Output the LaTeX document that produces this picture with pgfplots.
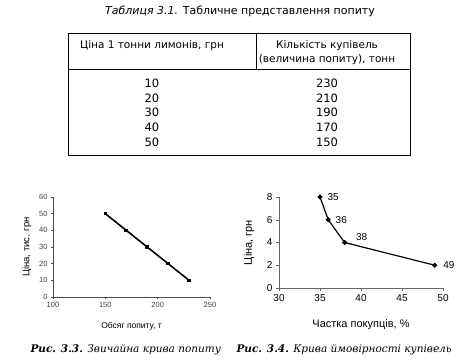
\documentclass[border=0pt]{standalone}
\usepackage{fontspec}
\setmainfont{Liberation Sans}
\newfontfamily\tabfont{DejaVu Sans}
\newfontfamily\capfont{DejaVu Serif}
\usepackage{pgfplots}
\pgfplotsset{compat=1.18}
\begin{document}
\begin{tikzpicture}
\useasboundingbox (0,0) rectangle (471pt,-363pt);
% title
\node[font=\tabfont\fontsize{11}{13}\selectfont] at (240pt,-11pt) {\textit{Таблиця 3.1.} Табличне представлення попиту};
% table frame
\draw[line width=0.7pt] (68pt,-33pt) rectangle (410pt,-155pt);
\draw[line width=0.7pt] (256pt,-33pt) -- (256pt,-69pt);
\draw[line width=0.7pt] (68pt,-69pt) -- (410pt,-69pt);
\begin{scope}[every node/.style={font=\tabfont\fontsize{10.5}{12}\selectfont}]
\node at (152pt,-46pt) {Ціна 1 тонни лимонів, грн};
\node at (327pt,-46pt) {Кількість купівель};
\node at (327pt,-60pt) {(величина попиту), тонн};
\foreach \a/\b/\y in {10/230/83,20/210/98,30/190/112,40/170/127,50/150/142}{
  \node[font=\tabfont\fontsize{11.5}{13}\selectfont] at (152pt,-\y pt) {\a};
  \node[font=\tabfont\fontsize{11.5}{13}\selectfont] at (327pt,-\y pt) {\b};
}
\end{scope}
% left chart
\begin{axis}[
  at={(53pt,-297pt)}, anchor=south west,
  scale only axis, width=157pt, height=100pt,
  xmin=100, xmax=250, ymin=0, ymax=60,
  xtick={100,150,200,250}, ytick={0,10,20,30,40,50,60},
  axis lines=left, axis line style={-, black!70, line width=0.5pt},
  tick style={black!70, line width=0.4pt}, tick align=outside, major tick length=2pt,
  ticklabel style={font=\fontsize{7.5}{8.5}\selectfont, text=black!75},
  /pgf/number format/assume math mode=true,
  xlabel={Обсяг попиту, т}, ylabel={Ціна, тис. грн},
  label style={font=\fontsize{8.5}{10}\selectfont},
  ylabel style={font=\fontsize{9.5}{11}\selectfont, yshift=1pt},
  xlabel style={yshift=-8pt},
]
\addplot[black, line width=1.6pt, mark=square*, mark size=1pt] coordinates {(150,50) (170,40) (190,30) (210,20) (230,10)};
\end{axis}
% right chart
\begin{axis}[
  at={(279pt,-288pt)}, anchor=south west,
  scale only axis, width=164pt, height=91pt,
  xmin=30, xmax=50, ymin=0, ymax=8, clip=false,
  xtick={30,35,40,45,50}, ytick={0,2,4,6,8},
  axis lines=left, axis line style={-, black!60, line width=0.5pt},
  tick style={black!60, line width=0.4pt}, tick align=outside, major tick length=3pt,
  ticklabel style={font=\fontsize{10}{12}\selectfont},
  /pgf/number format/assume math mode=true,
  xlabel={Частка покупців, \%}, ylabel={Ціна, грн},
  label style={font=\fontsize{11}{13}\selectfont},
  xlabel style={yshift=-11pt},
  ylabel style={yshift=6pt},
]
\addplot[black, line width=1.2pt, mark=*, mark size=1.8pt] coordinates {(35,8) (36,6) (38,4) (49,2)};
\node[anchor=west, font=\fontsize{10}{12}\selectfont] at (axis cs:35,8) [xshift=4pt] {35};
\node[anchor=west, font=\fontsize{10}{12}\selectfont] at (axis cs:36,6) [xshift=4pt] {36};
\node[anchor=west, font=\fontsize{10}{12}\selectfont] at (axis cs:38,4) [xshift=8pt, yshift=5pt] {38};
\node[anchor=west, font=\fontsize{10}{12}\selectfont] at (axis cs:49,2) [xshift=5pt] {49};
\end{axis}
% captions
\node[anchor=west, font=\capfont\fontsize{10.5}{12}\selectfont] at (27pt,-350pt) {\textbf{\textit{Рис. 3.3.}} \textit{Звичайна крива попиту}};
\node[anchor=west, font=\capfont\fontsize{10.5}{12}\selectfont] at (233pt,-350pt) {\textbf{\textit{Рис. 3.4.}} \textit{Крива ймовірності купівель}};
\end{tikzpicture}
\end{document}
